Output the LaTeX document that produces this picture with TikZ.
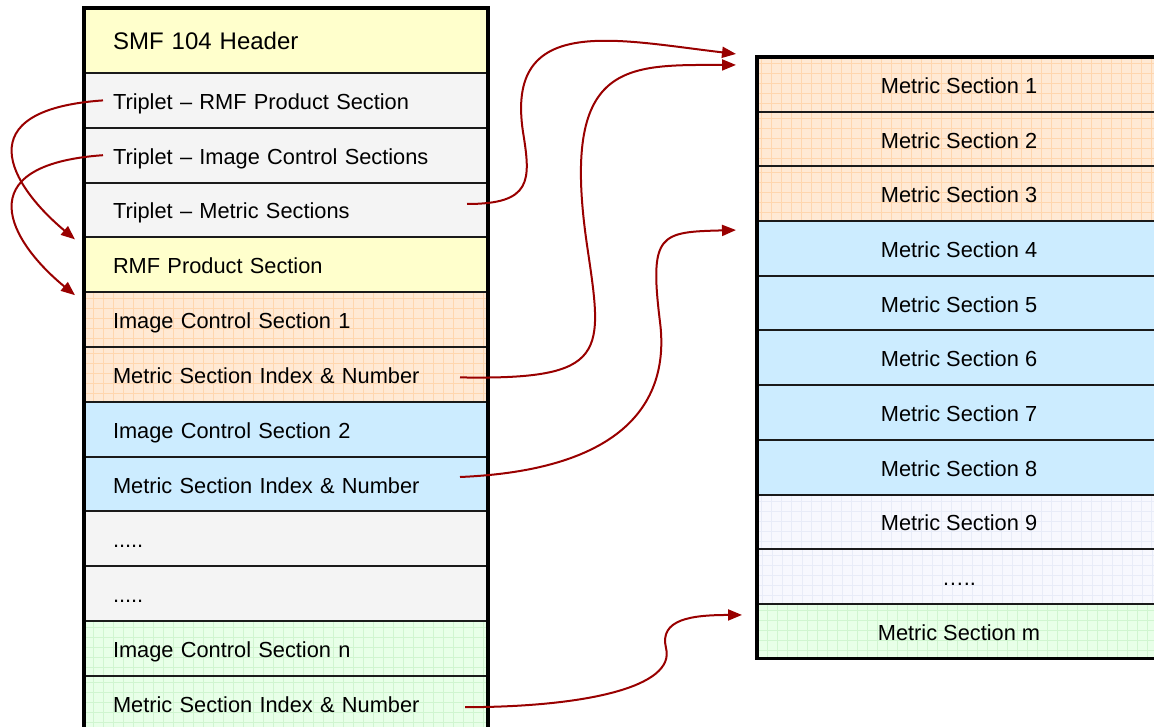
\documentclass[tikz,border=0pt]{standalone}
\usepackage{fontspec}
\setmainfont{Liberation Sans}
\usepackage{xcolor}
\usetikzlibrary{arrows.meta}
\definecolor{SecYellow}{HTML}{FFFFCC}
\definecolor{SecGray}{HTML}{F4F4F4}
\definecolor{SecOrange}{HTML}{FFE9D4}
\definecolor{SecOrangeGrid}{HTML}{FFD6AE}
\definecolor{SecBlue}{HTML}{CCECFF}
\definecolor{SecPale}{HTML}{F7F8FE}
\definecolor{SecPaleGrid}{HTML}{E8ECF8}
\definecolor{SecGreen}{HTML}{E8FFE8}
\definecolor{SecGreenGrid}{HTML}{D0F5D0}
\definecolor{SecLine}{HTML}{1A1A1A}
\definecolor{SecRed}{HTML}{990000}

\begin{document}
\begin{tikzpicture}[
            x=1pt, y=-1pt,
            row/.style={draw=SecLine, line width=2pt, outer sep=0pt, minimum height=54.8pt, text height=18pt, text depth=0pt, font=\fontsize{21.8pt}{26pt}\selectfont},
            lrow/.style={row, text width=346pt, inner xsep=29pt, align=left},
            rrow/.style={row, minimum width=404pt, inner xsep=0pt, align=center},
            gridded/.style={path picture={\draw[#1, step=10pt, line width=0.7pt] (path picture bounding box.south west) grid (path picture bounding box.north east);}},
            yellowbox/.style={fill=SecYellow},
            graybox/.style={fill=SecGray},
            orangebox/.style={fill=SecOrange, gridded=SecOrangeGrid},
            bluebox/.style={fill=SecBlue},
            palebox/.style={fill=SecPale, gridded=SecPaleGrid},
            greenbox/.style={fill=SecGreen, gridded=SecGreenGrid},
            frame/.style={draw=black, line width=3.2pt},
            arrow/.style={-{Triangle[length=14pt,width=11pt]}, line width=2pt, SecRed}
        ]
            \clip (0,0) rectangle (1154,727);
            % file layout
            \node[lrow, yellowbox, minimum height=65pt, text height=19pt, font=\fontsize{24pt}{28pt}\selectfont] (hdr) at (286,40.5) {SMF 104 Header};
            \node[lrow, graybox] (trrmf) at (286,100.4) {Triplet – RMF Product Section};
            \node[lrow, graybox] (trics) at (286,155.2) {Triplet – Image Control Sections};
            \node[lrow, graybox] (trmet) at (286,210.0) {Triplet – Metric Sections};
            \node[lrow, yellowbox] (rmf) at (286,264.8) {RMF Product Section};
            \node[lrow, orangebox] (ics1) at (286,319.6) {Image Control Section 1};
            \node[lrow, orangebox] (idx1) at (286,374.4) {Metric Section Index \& Number};
            \node[lrow, bluebox] (ics2) at (286,429.2) {Image Control Section 2};
            \node[lrow, bluebox] (idx2) at (286,484.0) {Metric Section Index \& Number};
            \node[lrow, graybox] (dotsa) at (286,538.8) {.....};
            \node[lrow, graybox] (dotsb) at (286,593.6) {.....};
            \node[lrow, greenbox] (icsn) at (286,648.4) {Image Control Section n};
            \node[lrow, greenbox] (idxn) at (286,703.2) {Metric Section Index \& Number};
            
            % metric sections
            \node[rrow, orangebox] (ms1) at (959,84.35) {Metric Section 1};
            \node[rrow, orangebox] (ms2) at (959,139.05) {Metric Section 2};
            \node[rrow, orangebox] (ms3) at (959,193.75) {Metric Section 3};
            \node[rrow, bluebox] (ms4) at (959,248.45) {Metric Section 4};
            \node[rrow, bluebox] (ms5) at (959,303.15) {Metric Section 5};
            \node[rrow, bluebox] (ms6) at (959,357.85) {Metric Section 6};
            \node[rrow, bluebox] (ms7) at (959,412.55) {Metric Section 7};
            \node[rrow, bluebox] (ms8) at (959,467.25) {Metric Section 8};
            \node[rrow, palebox] (ms9) at (959,521.95) {Metric Section 9};
            \node[rrow, palebox] (msdots) at (959,576.65) {…..};
            \node[rrow, greenbox] (msm) at (959,631.35) {Metric Section m};
            
            \draw[frame] (hdr.north west) rectangle (idxn.south east);
            \draw[frame] (ms1.north west) rectangle (msm.south east);
            
            % pointers
            \draw[arrow] ([xshift=19pt]trrmf.west) .. controls (-35,110) and (10,185) .. ([xshift=-9pt,yshift=-2pt]rmf.north west);
            \draw[arrow] ([xshift=19pt]trics.west) .. controls (-35,165) and (10,242) .. ([xshift=-9pt,yshift=-3pt]ics1.north west);
            \draw[arrow] ([xshift=-21pt,yshift=6pt]trmet.east) .. controls (532,204) and (531,181) .. (523,132) .. controls (505,13) and (616,40) .. ([xshift=-21pt,yshift=3pt]ms1.north west);
            \draw[arrow] ([xshift=-28pt,yshift=-3pt]idx1.east) .. controls (610,380) and (603,354) .. (587,245) .. controls (560,60) and (626,65) .. ([xshift=-21pt,yshift=-8pt]ms1.north west);
            \draw[arrow] ([xshift=-28pt,yshift=7pt]idx2.east) .. controls (625,470) and (670,401) .. (660,322) .. controls (649,233) and (660,232) .. ([xshift=-21pt,yshift=-9pt]ms4.north west);
            \draw[arrow] ([xshift=-23pt,yshift=-4pt]idxn.east) .. controls (585,707) and (676,687) .. (666,648) .. controls (659,619) and (692,615) .. ([xshift=-15pt,yshift=-11pt]msm.north west);
        \end{tikzpicture}
\end{document}
